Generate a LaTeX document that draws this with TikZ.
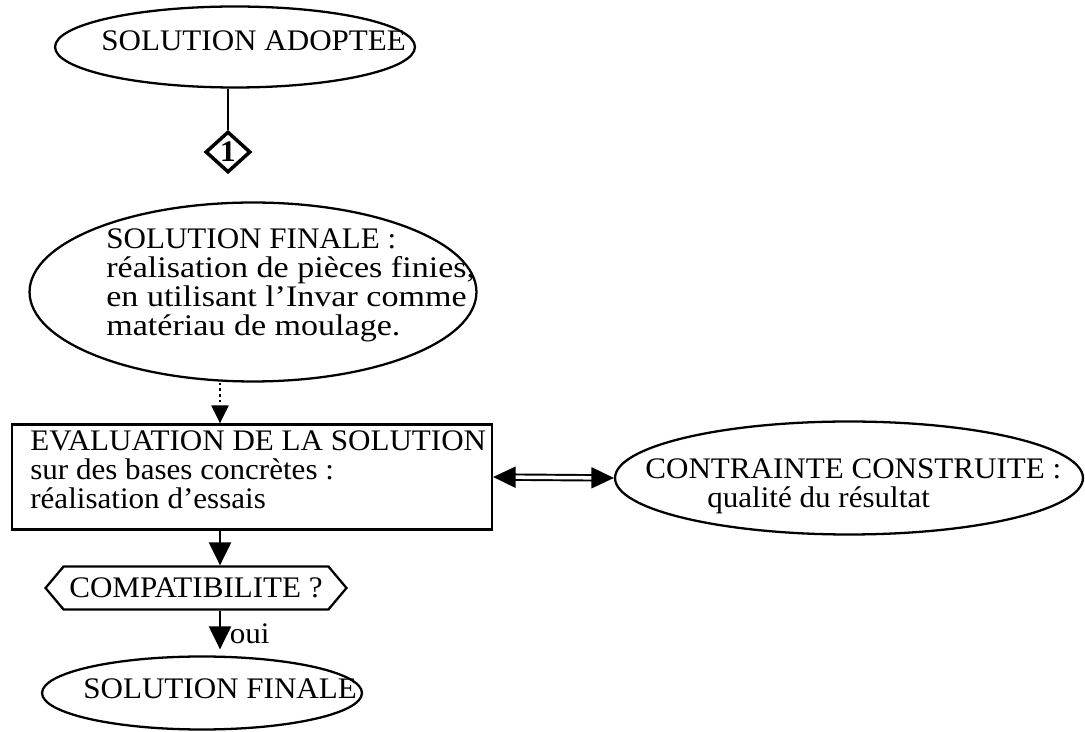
\documentclass[tikz,border=0pt]{standalone}
\usepackage{fontspec}
\setmainfont{Liberation Serif}[FakeStretch=1.04]
\usepackage{tikz}
\usetikzlibrary{shapes.geometric, shapes.symbols, arrows.meta, positioning}

\tikzset{
  oval/.style={ellipse, draw, line width=1.3pt, inner sep=0pt},
  box/.style={rectangle, draw, line width=1.3pt, inner sep=0pt},
  hexa/.style={signal, signal to=west and east, signal pointer angle=100, draw, line width=1.3pt, inner sep=0pt},
  txt/.style={inner sep=0pt, align=left},
  flow/.style={line width=1.3pt, -{Triangle[length=0.46cm, width=0.44cm]}},
}

\begin{document}
\begin{tikzpicture}[x=0.02cm, y=-0.02cm, font=\fontsize{17pt}{16.5pt}\selectfont]
    \useasboundingbox (0,0) rectangle (1085,732);
    % Nodes
    \node (adoptee) [oval, minimum width=7.2cm, minimum height=1.62cm] at (235,47) {};
    \node (adopteeT) [txt, anchor=west] at (101,41) {SOLUTION ADOPTEE};
    \node (etape) [diamond, draw, line width=2pt, minimum width=0.9cm, minimum height=0.82cm, inner sep=0pt, font=\fontsize{17pt}{17pt}\selectfont\bfseries] at (228,152) {1};

    \node (finale) [oval, minimum width=8.94cm, minimum height=3.58cm] at (253,292) {};
    \node (finaleT) [txt, anchor=north west] at (106,228) {SOLUTION FINALE :\\\addfontfeature{FakeStretch=1.14}réalisation de pièces finies,\\\addfontfeature{FakeStretch=1.14}en utilisant l'Invar comme\\\addfontfeature{FakeStretch=1.14}matériau de moulage.};

    \node (eval) [box, minimum width=9.6cm, minimum height=2.1cm] at (252,477) {};
    \node (evalT) [txt, anchor=north west] at (30,430) {EVALUATION DE LA SOLUTION\\sur des bases concrètes :\\réalisation d'essais};

    \node (contrainte) [oval, minimum width=9.36cm, minimum height=2.26cm] at (849,478) {};
    \node (contrainteT) [txt, anchor=north west] at (645,458) {CONTRAINTE CONSTRUITE :\\\hspace*{1.24cm}qualité du résultat};

    \node (compat) [hexa, minimum width=6.02cm, minimum height=0.86cm] at (196,588) {COMPATIBILITE ?};

    \node (finale2) [oval, minimum width=6.4cm, minimum height=1.46cm] at (202,693) {};
    \node (finale2T) [txt, anchor=west] at (83,689) {SOLUTION FINALE};

    \coordinate (axe) at (220,0);

    % Arrows
    \draw[line width=1.3pt] (etape.north) -- (etape |- adoptee.south);
    \draw[line width=1.3pt, dotted, -{Triangle[length=0.36cm, width=0.34cm]}] (finale.south -| axe) -- (eval.north -| axe);
    \draw[line width=1.1pt, double, double distance=2pt, {Triangle[length=0.45cm, width=0.42cm]}-{Triangle[length=0.45cm, width=0.42cm]}] (eval.east) -- (contrainte.west);
    \draw[flow] (eval.south -| axe) -- (compat.north -| axe);
    \draw[flow] (compat.south -| axe) -- ([yshift=0.12cm]finale2.north -| axe) node[pos=0.6, right, inner sep=1pt, xshift=4pt] {oui};
\end{tikzpicture}
\end{document}
